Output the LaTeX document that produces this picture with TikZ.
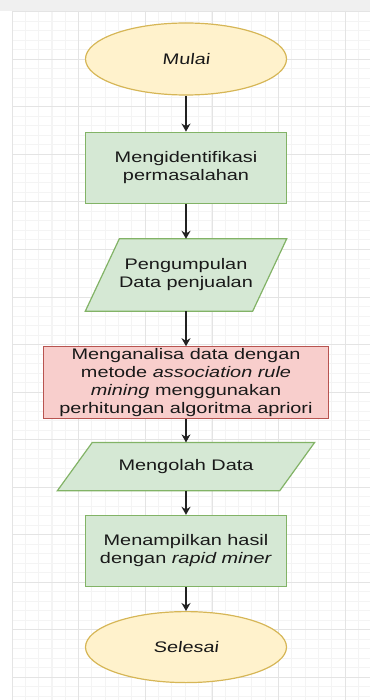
\documentclass[tikz,border=0pt]{standalone}
\usepackage{fontspec}
\newfontfamily\flowfont[FakeStretch=1.3]{Liberation Sans}
\newfontfamily\termfont[FakeStretch=1.3,FakeSlant=0.12]{Liberation Sans}
\usetikzlibrary{shapes.geometric, arrows.meta, positioning, backgrounds}
\definecolor{termfill}{HTML}{FFF2CC}
\definecolor{termdraw}{HTML}{D6B656}
\definecolor{procfill}{HTML}{D5E8D4}
\definecolor{procdraw}{HTML}{82B366}
\definecolor{alertfill}{HTML}{F8CECC}
\definecolor{alertdraw}{HTML}{B85450}
\definecolor{gridminor}{HTML}{F4F4F4}
\definecolor{gridmajor}{HTML}{E4E4E4}
\definecolor{arrowcol}{HTML}{222222}

\begin{document}
\begin{tikzpicture}[x=1pt, y=-1pt, node distance=35pt,
        every node/.style={font=\flowfont\fontsize{15.3}{18}\selectfont, align=center, inner sep=0pt, text=black!90},
        term/.style={ellipse, draw=termdraw, fill=termfill, line width=1.2pt,
            minimum width=201pt, minimum height=72pt, font=\termfont\fontsize{15.3}{18}\selectfont},
        proc/.style={rectangle, draw=procdraw, fill=procfill, line width=1.2pt,
            minimum width=201pt, minimum height=71pt},
        data/.style={rectangle},
        datashape/.style={draw=procdraw, fill=procfill, line width=1.2pt},
        flow/.style={-{Stealth[length=8pt,width=9pt]}, draw=arrowcol, line width=1.3pt}]
        \useasboundingbox (0,0) rectangle (370,700);

        % Grid
        \begin{pgfonlayer}{background}
        \fill[gray!12] (0,0) rectangle (370,11);
        \foreach \i in {0,...,26} \draw[gridminor, line width=1pt] ({12+\i*13.333},11) -- ({12+\i*13.333},700);
        \foreach \i in {0,...,72} \draw[gridminor, line width=1pt] (12,{12+\i*9.5}) -- (370,{12+\i*9.5});
        \foreach \i in {0,...,5} \draw[gridmajor, line width=1pt] ({12+\i*66.67},11) -- ({12+\i*66.67},700);
        \foreach \i in {0,...,14} \draw[gridmajor, line width=1pt] (12,{12+\i*47.5}) -- (370,{12+\i*47.5});
        \end{pgfonlayer}

        % Nodes
        \node (start) [term] at (186,59) {Mulai};
        \node (identify) [proc, below=36pt of start] {Mengidentifikasi\\permasalahan};
        \node (collect) [data, minimum width=201pt, minimum height=72pt, below=35pt of identify]
            {Pengumpulan\\Data penjualan};
        \node (analyze) [rectangle, draw=alertdraw, fill=alertfill, line width=1.2pt,
            minimum width=285pt, minimum height=72pt, below=35pt of collect]
            {\fontsize{15.3}{17.2}\selectfont Menganalisa data dengan\\metode \textit{association rule}\\
            \textit{mining} menggunakan\\perhitungan algoritma apriori};
        \node (process) [data, minimum width=257pt, minimum height=48pt, below=23pt of analyze] {Mengolah Data};
        \node (result) [proc, below=24pt of process] {Menampilkan hasil\\dengan \textit{rapid miner}};
        \node (finish) [term, minimum height=71pt, below=24pt of result] {Selesai};

        % Parallelograms behind the data nodes
        \begin{pgfonlayer}{background}
        \draw[datashape] ([xshift=34pt]collect.north west) -- (collect.north east)
            -- ([xshift=-34pt]collect.south east) -- (collect.south west) -- cycle;
        \draw[datashape] ([xshift=35pt]process.north west) -- (process.north east)
            -- ([xshift=-35pt]process.south east) -- (process.south west) -- cycle;
        \end{pgfonlayer}

        % Edges
        \draw[flow] (start) -- (identify);
        \draw[flow] (identify) -- (collect);
        \draw[flow] (collect) -- (analyze);
        \draw[flow] (analyze) -- (process);
        \draw[flow] (process) -- (result);
        \draw[flow] (result) -- (finish);
    \end{tikzpicture}
\end{document}
